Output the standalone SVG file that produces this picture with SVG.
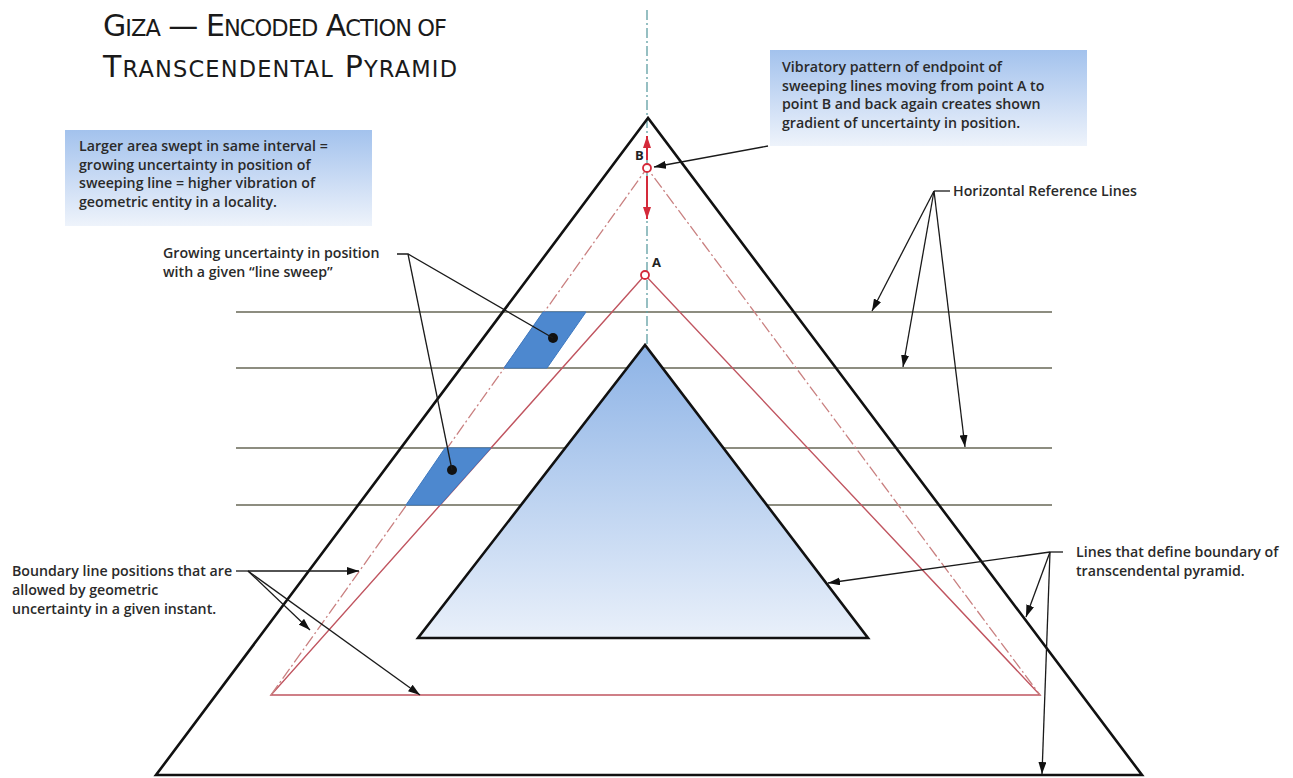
<svg xmlns="http://www.w3.org/2000/svg" width="1293" height="778" viewBox="0 0 1293 778">
<style>
.lbl{font-family:"Open Sans","Liberation Sans",sans-serif;font-size:14.2px;font-weight:600;fill:#2a2a2a}
.pt{font-family:"Open Sans","Liberation Sans",sans-serif;font-size:13px;font-weight:700;fill:#222}
.ttl{font-family:"DejaVu Sans","Liberation Sans",sans-serif;fill:#1a1a1a}
.big{font-size:30px}
.sm{font-size:22.5px}
.blk{fill:none;stroke:#111;stroke-width:2.6;stroke-linejoin:miter}
.ref{stroke:#8d8d80;stroke-width:2}
.lead{fill:none;stroke:#1a1a1a;stroke-width:1.3}
.dd{fill:none;stroke:#c98080;stroke-width:1.3;stroke-dasharray:12 3 2 3}
.par{fill:#4d88cf;stroke:#3d78bf;stroke-width:1}
</style>
<defs>
<linearGradient id="gInner" x1="0" y1="0" x2="0" y2="1">
<stop offset="0" stop-color="#8db3e6"/>
<stop offset="1" stop-color="#e9f0fa"/>
</linearGradient>
<linearGradient id="gBox" x1="0" y1="0" x2="0" y2="1">
<stop offset="0" stop-color="#a3c2ed"/>
<stop offset="1" stop-color="#eef3fb"/>
</linearGradient>
<marker id="ah" viewBox="0 0 12 8" refX="12" refY="4" markerWidth="12" markerHeight="8" markerUnits="userSpaceOnUse" orient="auto">
<path d="M0,0 L12,4 L0,8 z" fill="#111"/>
</marker>
<marker id="rh" viewBox="0 0 12 8" refX="12" refY="4" markerWidth="14" markerHeight="8" markerUnits="userSpaceOnUse" orient="auto">
<path d="M0,0 L12,4 L0,8 z" fill="#d42a3a"/>
</marker>
</defs>

<g id="title">
<text class="ttl" x="103" y="36" textLength="344" lengthAdjust="spacing"><tspan class="big">G</tspan><tspan class="sm">IZA</tspan><tspan class="big"> —  E</tspan><tspan class="sm">NCODED</tspan><tspan class="big"> A</tspan><tspan class="sm">CTION OF</tspan></text>
<text class="ttl" x="103" y="77" textLength="354" lengthAdjust="spacing"><tspan class="big">T</tspan><tspan class="sm">RANSCENDENTAL</tspan><tspan class="big"> P</tspan><tspan class="sm">YRAMID</tspan></text>
</g>

<g id="ref-lines">
<line class="ref" x1="236" y1="312" x2="1052" y2="312"/>
<line class="ref" x1="236" y1="368" x2="1052" y2="368"/>
<line class="ref" x1="236" y1="448" x2="1052" y2="448"/>
<line class="ref" x1="236" y1="505" x2="1052" y2="505"/>
</g>

<g id="axis">
<line x1="647" y1="10" x2="647" y2="345" stroke="#5f9ea3" stroke-width="1.3" stroke-dasharray="10 3 2 3"/>
</g>

<g id="inner-pyramid">
<polygon points="645,345 418,638 868,638" fill="url(#gInner)" stroke="#111" stroke-width="2.6"/>
</g>

<g id="outer-pyramid">
<polygon class="blk" points="648,118 156,775 1142,775"/>
</g>

<g id="boundary-red">
<polygon points="645,275 271,695 1040,695" fill="none" stroke="#c05560" stroke-width="1.4"/>
</g>

<g id="boundary-dashdot">
<polyline class="dd" points="271,695 647,168 1040,695"/>
</g>

<g id="sweep-areas">
<polygon class="par" points="543,312 586,312 547,368 504,368"/>
<polygon class="par" points="445,448 491,448 440,505 406,505"/>
<circle cx="553" cy="338" r="5" fill="#111"/>
<circle cx="452" cy="470" r="5" fill="#111"/>
</g>

<g id="point-B">
<line x1="647" y1="160" x2="647" y2="136" stroke="#d42a3a" stroke-width="2" marker-end="url(#rh)"/>
<line x1="647" y1="176" x2="647" y2="219" stroke="#d42a3a" stroke-width="2" marker-end="url(#rh)"/>
<circle cx="647" cy="168" r="4" fill="#fff" stroke="#d42a3a" stroke-width="1.8"/>
<text class="pt" x="635" y="160">B</text>
</g>

<g id="point-A">
<circle cx="645" cy="275" r="4" fill="#fff" stroke="#d42a3a" stroke-width="1.8"/>
<text class="pt" x="652" y="267">A</text>
</g>

<g id="box-vibratory">
<rect x="770" y="50" width="317" height="96" fill="url(#gBox)"/>
<text class="lbl" x="782" y="72">Vibratory pattern of endpoint of</text>
<text class="lbl" x="782" y="91">sweeping lines moving from point A to</text>
<text class="lbl" x="782" y="109">point B and back again creates shown</text>
<text class="lbl" x="782" y="128">gradient of uncertainty in position.</text>
</g>

<g id="box-larger">
<rect x="65" y="130" width="307" height="96" fill="url(#gBox)"/>
<text class="lbl" x="79" y="151">Larger area swept in same interval =</text>
<text class="lbl" x="79" y="170">growing uncertainty in position of</text>
<text class="lbl" x="79" y="188">sweeping line = higher vibration of</text>
<text class="lbl" x="79" y="207">geometric entity in a locality.</text>
</g>

<g id="label-growing">
<text class="lbl" x="163" y="258">Growing uncertainty in position</text>
<text class="lbl" x="163" y="277">with a given “line sweep”</text>
</g>

<g id="label-horizontal">
<text class="lbl" x="953" y="196">Horizontal Reference Lines</text>
</g>

<g id="label-boundary-positions">
<text class="lbl" x="12" y="576">Boundary line positions that are</text>
<text class="lbl" x="12" y="595">allowed by geometric</text>
<text class="lbl" x="12" y="614">uncertainty in a given instant.</text>
</g>

<g id="label-lines-define">
<text class="lbl" x="1076" y="557">Lines that define boundary of</text>
<text class="lbl" x="1076" y="576">transcendental pyramid.</text>
</g>

<g id="connectors">
<line class="lead" x1="768" y1="146" x2="654" y2="167" marker-end="url(#ah)"/>
<polyline class="lead" points="397,254 408,254 553,338"/>
<line class="lead" x1="408" y1="254" x2="452" y2="470"/>
<line class="lead" x1="934" y1="191" x2="950" y2="191"/>
<line class="lead" x1="934" y1="191" x2="872" y2="311" marker-end="url(#ah)"/>
<line class="lead" x1="934" y1="191" x2="903" y2="367" marker-end="url(#ah)"/>
<line class="lead" x1="934" y1="191" x2="965" y2="447" marker-end="url(#ah)"/>
<line class="lead" x1="236" y1="571" x2="248" y2="571"/>
<line class="lead" x1="248" y1="571" x2="359" y2="571" marker-end="url(#ah)"/>
<line class="lead" x1="248" y1="571" x2="310" y2="630" marker-end="url(#ah)"/>
<line class="lead" x1="248" y1="571" x2="420" y2="695" marker-end="url(#ah)"/>
<line class="lead" x1="1050" y1="552" x2="1063" y2="552"/>
<line class="lead" x1="1050" y1="552" x2="828" y2="583" marker-end="url(#ah)"/>
<line class="lead" x1="1050" y1="552" x2="1026" y2="617" marker-end="url(#ah)"/>
<line class="lead" x1="1050" y1="552" x2="1042" y2="774" marker-end="url(#ah)"/>
</g>
</svg>
